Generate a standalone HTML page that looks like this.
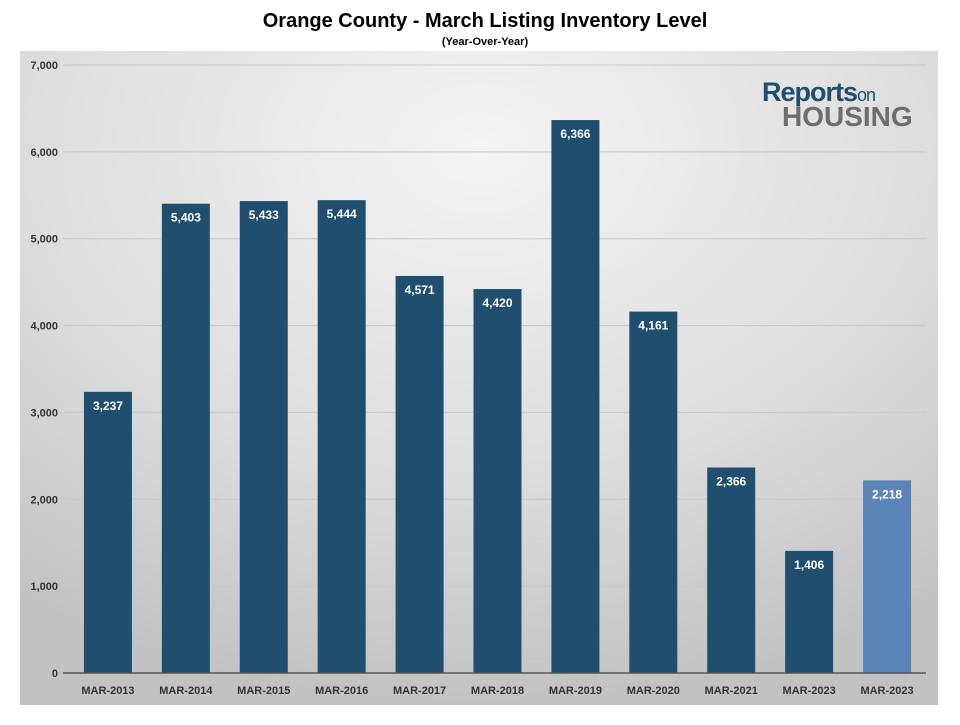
<!DOCTYPE html>
<html><head><meta charset="utf-8"><style>
body{margin:0;background:#fff;font-family:"Liberation Sans",Arial,sans-serif;}
</style></head><body>
<svg id="c" width="960" height="720" xmlns="http://www.w3.org/2000/svg">
<defs>
<radialGradient id="bg" cx="0.5" cy="0.15" r="0.85">
<stop offset="0" stop-color="#f4f4f4"/><stop offset="0.6" stop-color="#dcdcdc"/><stop offset="1" stop-color="#c2c2c2"/>
</radialGradient>
</defs>
<rect x="20" y="51" width="918" height="654" fill="url(#bg)"/>
<text x="485" y="27" text-anchor="middle" font-size="20" font-weight="bold" fill="#000">Orange County - March Listing Inventory Level</text>
<text x="485" y="45" text-anchor="middle" font-size="11" font-weight="bold" fill="#000">(Year-Over-Year)</text>
<g>
<text x="762" y="101" font-size="27" fill="#1f4e6e" font-weight="bold" letter-spacing="-1">Reports<tspan font-size="18" font-weight="normal">on</tspan></text>
<text x="782" y="126" font-size="28" fill="#6d6d6d" font-weight="bold">HOUSING</text>
</g>
<g id="grid"></g><g id="bars"></g><g id="axes"></g>
</svg>
<script>
const categories=["MAR-2013","MAR-2014","MAR-2015","MAR-2016","MAR-2017","MAR-2018","MAR-2019","MAR-2020","MAR-2021","MAR-2023","MAR-2023"];
const values=[3237,5403,5433,5444,4571,4420,6366,4161,2366,1406,2218];
const tickValues=[0,1000,2000,3000,4000,5000,6000,7000];
const tickLabels=["0","1,000","2,000","3,000","4,000","5,000","6,000","7,000"];
const NS="http://www.w3.org/2000/svg";
const x0=69,x1=926,yTop=65,yBot=673,yMax=7000;
const step=(x1-x0)/categories.length;
const y=v=>yBot-(v/yMax)*(yBot-yTop);
const xc=i=>x0+step*(i+0.5);
function mk(t,a,p){const e=document.createElementNS(NS,t);for(const k in a)e.setAttribute(k,a[k]);p.appendChild(e);return e;}
const grid=document.getElementById('grid'),bars=document.getElementById('bars'),axes=document.getElementById('axes');
tickValues.forEach((v,i)=>{
 if(v>0){const l=mk('line',{x1:x0-6,x2:x1,y1:y(v),y2:y(v),stroke:'#c8c8c8','stroke-width':1},grid);
 
 }
 const t=mk('text',{x:58,y:y(v)+4,'text-anchor':'end','font-size':11,'font-weight':'bold',fill:'#333'},axes);
 t.textContent=tickLabels[i];
 
 
});
const bw=48;
values.forEach((v,i)=>{
 const last=i===values.length-1;
 const r=mk('rect',{x:xc(i)-bw/2,y:y(v),width:bw,height:yBot-y(v),fill:last?'#5b84b8':'#1f4e6e'},bars);
 
 
 const t=mk('text',{x:xc(i),y:y(v)+18,'text-anchor':'middle','font-size':12,'font-weight':'bold',fill:'#fff'},bars);
 t.textContent=v.toLocaleString('en-US');
 
 
 const c=mk('text',{x:xc(i),y:694,'text-anchor':'middle','font-size':11,'font-weight':'bold',fill:'#333'},axes);
 c.textContent=categories[i];
 
 
});
const ax=mk('line',{x1:x0-6,x2:x1,y1:yBot,y2:yBot,stroke:'#555','stroke-width':1.5},axes);


</script>
</body></html>
